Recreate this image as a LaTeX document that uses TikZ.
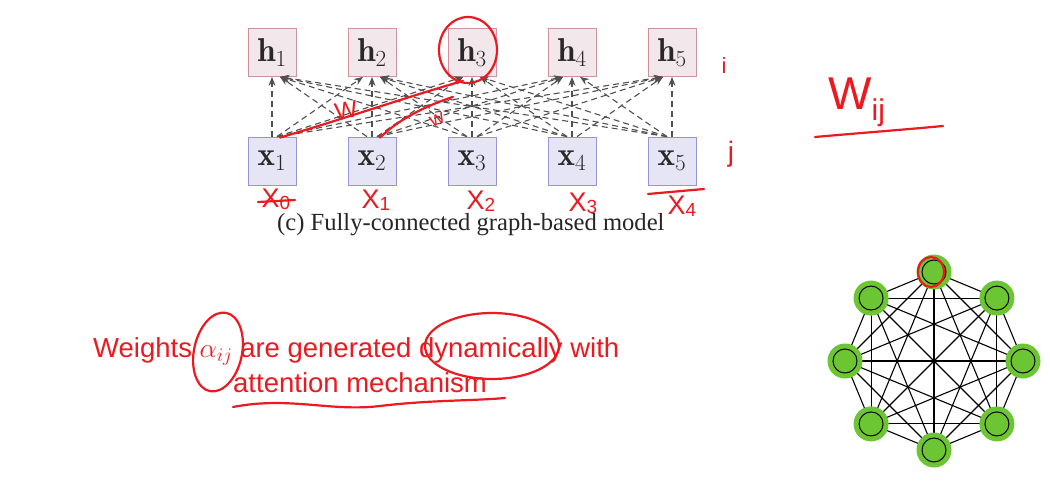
\RequirePackage{fix-cm}
\documentclass[tikz,border=0pt]{standalone}
\usepackage{fontspec}
\newfontfamily\capfont{Liberation Serif}
\newfontfamily\redsans{Liberation Sans}
\usetikzlibrary{arrows.meta,backgrounds}
\definecolor{hfill}{RGB}{242,231,235}
\definecolor{hdraw}{RGB}{208,146,156}
\definecolor{xfill}{RGB}{229,229,246}
\definecolor{xdraw}{RGB}{150,150,214}
\definecolor{pen}{RGB}{236,26,32}
\definecolor{nodegreen}{RGB}{108,198,52}
\definecolor{edgegray}{RGB}{80,80,80}
\definecolor{boxtext}{RGB}{40,40,40}
\tikzset{
  hbox/.style={draw=hdraw, fill=hfill, line width=0.8pt, minimum width=48pt, minimum height=48pt, inner sep=0pt, text=boxtext, font=\fontsize{33}{36}\selectfont},
  xbox/.style={draw=xdraw, fill=xfill, line width=0.8pt, minimum width=48pt, minimum height=48pt, inner sep=0pt, text=boxtext, font=\fontsize{33}{36}\selectfont},
  attn/.style={draw=edgegray, dash pattern=on 6pt off 4pt, line width=1.1pt, -{Stealth[length=9pt,width=7pt]}},
  penline/.style={draw=pen, line width=2.2pt, line cap=round, line join=round},
  hand/.style={text=pen, inner sep=0pt, font=\redsans\fontsize{27}{27}\selectfont},
  redtext/.style={text=pen, inner sep=0pt, anchor=base west, font=\redsans\fontsize{27.5}{30}\selectfont},
  gnode/.style={circle, fill=nodegreen, minimum size=35pt, inner sep=0pt},
  gedge/.style={draw=black, line width=1.1pt},
}
\newcommand{\hsub}[1]{{\fontsize{19}{19}\selectfont\raisebox{-2pt}{#1}}}
\begin{document}
\begin{tikzpicture}[x=1pt,y=-1pt]
\begin{pgfonlayer}{background}
\fill[white] (0,0) rectangle (1050,487);
\end{pgfonlayer}
\useasboundingbox (0,0) rectangle (1050,487);

% boxes
\foreach \i in {1,...,5} {
  \node[hbox] (h\i) at ({172+100*\i},52.5) {$\mathbf{h}_{\i}$};
  \node[xbox] (x\i) at ({172+100*\i},161) {$\mathbf{x}_{\i}$};
}
% fully connected attention arrows
\foreach \i in {1,...,5} {
  \foreach \j in {1,...,5} {
    \pgfmathsetmacro\so{(\i<\j)?-5:((\i>\j)?5:0)}
    \pgfmathsetmacro\eo{(\i<\j)?8:((\i>\j)?-9:0)}
    \draw[attn] ([xshift=\so pt]x\j.north) -- ([xshift=\eo pt]h\i.south);
  }
}
% caption
\node[anchor=base west, inner sep=0pt, font=\capfont\fontsize{24.6}{28}\selectfont, text=black!85] (cap) at (277,230) {(c) Fully-connected graph-based model};

% red text
\node[redtext] (t1) at (93,357) {Weights $\alpha_{ij}$ are generated dynamically with};
\node[redtext] (t2) at (233,392) {attention mechanism};

% graph
\foreach \k in {0,...,7} {
  \node[gnode] (g\k) at ({934+89*cos(90+45*\k)},{361-89*sin(90+45*\k)}) {};
  \draw[black, line width=1pt] (g\k.center) circle[radius=12pt];
}
\begin{pgfonlayer}{background}
\foreach \a [evaluate=\a as \s using int(\a+1)] in {0,...,6} {
  \foreach \b in {\s,...,7} {
    \draw[gedge] (g\a.center) -- (g\b.center);
  }
}
\end{pgfonlayer}

% handwritten annotations
\draw[penline] (468,50) ellipse[x radius=29pt, y radius=33pt];
\draw[penline] ([xshift=8pt,yshift=-1pt]x1.north) .. controls (340,120) and (410,96) .. ([xshift=-9pt,yshift=-4pt]h3.south);
\draw[penline] ([xshift=8pt,yshift=-1pt]x2.north) .. controls (398,120) and (425,106) .. ([xshift=-19pt,yshift=-20pt]h3.south);
\node[hand, font=\redsans\fontsize{24}{24}\selectfont, rotate=10] (wa) at (346,110) {W};
\node[hand, font=\redsans\fontsize{20}{20}\selectfont, rotate=22] (wb) at (437,120) {w};
\node[hand, font=\redsans\fontsize{22}{22}\selectfont] (il) at (724,66) {i};
\node[hand, font=\redsans\fontsize{28}{28}\selectfont] (jl) at (731,154) {j};
\node[hand, font=\redsans\fontsize{46}{46}\selectfont, anchor=base west] (wij) at (828,110) {W{\fontsize{30}{30}\selectfont\raisebox{-10pt}{ij}}};
\draw[penline] (815,137) .. controls (860,133) and (900,130) .. (943,126);

\node[hand] (X0) at (276,199) {X\hsub{0}};
\draw[penline] (258,202) -- (295,200);
\node[hand] (X1) at (376,200) {X\hsub{1}};
\node[hand] (X2) at (481,201) {X\hsub{2}};
\node[hand] (X3) at (583,203) {X\hsub{3}};
\node[hand] (X4) at (682,206) {X\hsub{4}};
\draw[penline] (648,194) -- (704,189);

% loops on text
\draw[penline, rotate around={-12:(218,352)}] (218,352) ellipse[x radius=24pt, y radius=40pt];
\draw[penline] (492,346) ellipse[x radius=67pt, y radius=33pt];
\draw[penline] (233,407) .. controls (290,396) and (330,412) .. (380,406) .. controls (430,400) and (470,401) .. (505,398);
% circle on graph node
\draw[penline] (931,272) ellipse[x radius=13pt, y radius=15pt];
\end{tikzpicture}
\end{document}
